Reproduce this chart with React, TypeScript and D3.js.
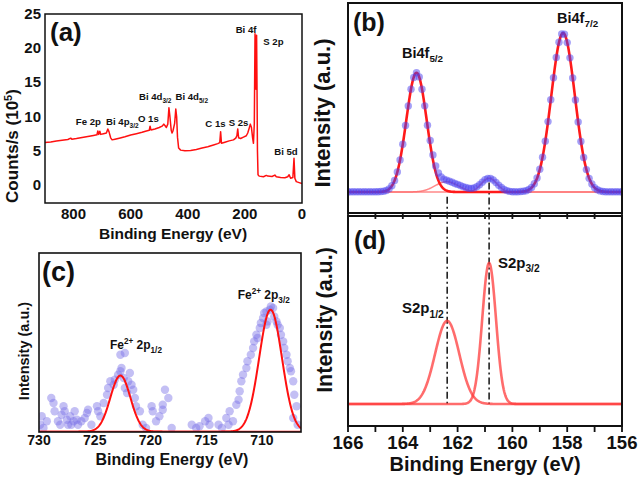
import React from 'react';
import * as d3 from 'd3';

const FONT = '"Liberation Sans", Arial, Helvetica, sans-serif';

// ---------- (a) survey spectrum ----------
const surveyEnergy = [900,880,860,840,820,810,806,790,770,750,730,718,715,712,708,705,695,685,680,676,670,665,655,640,620,600,580,560,545,535,532,529,515,500,490,484,480,475,470,466,463,458,455,452,446,442,439,436,432,425,410,390,370,350,330,310,295,288,285,282,270,255,240,232,228,225,222,215,205,195,190,185,181,177,173,170,167,164.5,162.5,161,159,157.5,156,154,150,135,125,120,105,95,90,75,60,50,45,40,32,28,25,20,10,0];
const surveyCounts = [6.2,6.3,6.45,6.55,6.65,6.85,6.7,6.8,6.95,7.1,7.25,7.35,7.9,7.4,7.85,7.4,7.5,7.6,8.2,7.8,6.9,6.6,6.7,6.85,7.05,7.3,7.5,7.7,7.9,8.0,8.6,8.05,8.2,8.4,8.6,8.9,8.7,8.4,8.9,11.3,10.2,8.0,7.6,7.9,9.0,11.1,10.0,7.0,5.4,5.1,5.0,5.05,5.2,5.4,5.6,5.85,6.05,6.2,7.8,6.1,6.25,6.45,6.6,6.85,7.2,8.2,6.9,6.8,7.0,7.2,7.6,8.3,8.9,8.4,6.9,6.1,9.0,22.1,16,14,21.9,14,5,1.5,1.3,1.2,1.4,1.3,1.25,1.45,1.2,1.1,1.05,1.2,1.5,1.0,1.1,3.9,1.0,0.5,0.35,0.2];
const surveyXTicks = [800, 600, 400, 200, 0];
const surveyYTicks = [0, 5, 10, 15, 20, 25];
const surveyLabelMain = ['Fe 2p', 'Bi 4p', 'O 1s', 'Bi 4d', 'Bi 4d', 'C 1s', 'S 2s', 'Bi 4f', 'S 2p', 'Bi 5d'];
const surveyLabelSub = ['', '3/2', '', '3/2', '5/2', '', '', '', '', ''];
const surveyLabelE = [748, 629, 538, 514, 386, 303, 222, 196, 100, 56];
const surveyLabelV = [8.8, 8.8, 9.2, 12.4, 12.4, 8.5, 8.6, 22.2, 20.5, 4.4];

// ---------- (b) Bi 4f high-resolution ----------
const bEnergy = [166.0,165.9,165.8,165.7,165.6,165.5,165.4,165.3,165.2,165.1,165.0,164.9,164.8,164.7,164.6,164.5,164.4,164.3,164.2,164.1,164.0,163.9,163.8,163.7,163.6,163.5,163.4,163.3,163.2,163.1,163.0,162.9,162.8,162.7,162.6,162.5,162.4,162.3,162.2,162.1,162.0,161.9,161.8,161.7,161.6,161.5,161.4,161.3,161.2,161.1,161.0,160.9,160.8,160.7,160.6,160.5,160.4,160.3,160.2,160.1,160.0,159.9,159.8,159.7,159.6,159.5,159.4,159.3,159.2,159.1,159.0,158.9,158.8,158.7,158.6,158.5,158.4,158.3,158.2,158.1,158.0,157.9,157.8,157.7,157.6,157.5,157.4,157.3,157.2,157.1,157.0,156.9,156.8,156.7,156.6,156.5,156.4,156.3,156.2,156.1,156.0];
const bIntensity = [0.2,0.1,0.2,0.1,0.2,0.1,0.2,0.1,0.2,0.1,0.2,0.2,0.3,0.5,1.0,2.0,4.0,7.3,12.6,20.2,30.0,41.9,54.1,64.7,72.0,75.0,72.4,64.6,54.2,42.0,32.4,23.3,16.4,12.0,9.4,8.0,7.4,6.8,6.1,5.4,4.8,4.1,3.4,2.8,2.4,2.3,2.6,3.3,4.6,6.2,7.7,8.6,8.6,7.6,6.0,4.3,2.8,1.6,0.9,0.4,0.2,0.2,0.1,0.3,0.5,0.8,1.6,2.9,5.2,8.8,14.3,21.9,32.0,44.3,58.0,71.9,84.6,94.2,99.4,99.3,94.0,84.4,71.7,57.9,44.1,31.8,21.7,14.1,8.6,5.0,2.7,1.4,0.7,0.3,0.2,0.1,0.2,0.1,0.2,0.1,0.2];
const biFitCenter = [163.5, 158.15];
const biFitHeight = [75, 100];
const biFitSigma = [0.37, 0.43];
const bSCompCenter = [162.4, 160.85];
const bSCompHeight = [6.5, 8.7];
const bSCompSigma = [0.42, 0.28];

// ---------- (d) S 2p ----------
const sFitCenter = [162.38, 160.85];
const sFitHeight = [58.9, 100];
const sFitSigma = [0.44, 0.25];
const bdXTicks = [166, 165, 164, 163, 162, 161, 160, 159, 158, 157, 156];
const bdXLabels = [166, 164, 162, 160, 158, 156];
const dashLineEnergy = [162.38, 160.85];
const dashLineStartB = [-3, 6];

// ---------- (c) Fe 2p ----------
const cEnergy = [729.76,729.9,729.6,729.3,728.9,728.7,728.6,728.3,728.1,727.97,727.8,727.7,727.5,727.4,727.2,727.1,726.9,726.8,726.6,726.5,726.2,725.9,725.7,725.6,725.3,724.8,724.7,724.5,724.2,723.9,723.8,723.6,723.3,723.2,722.9,722.7,722.6,722.4,722.3,722.1,722.0,721.85,721.7,722.7,722.3,721.55,721.4,721.3,720.95,720.7,720.4,719.9,719.8,719.5,719.2,718.9,718.7,718.4,718.9,718.1,716.3,715.9,715.6,715.1,714.8,714.7,713.9,713.6,713.2,713.0,712.9,712.6,712.3,712.1,712.0,711.85,711.7,711.4,711.3,711.0,710.8,710.7,710.5,710.4,710.2,710.1,709.9,709.8,709.6,709.6,709.5,709.3,709.2,709.0,708.9,708.7,708.6,708.4,708.3,708.1,708.0,707.8,707.7,707.5,707.4,707.2,707.1,706.9,707.2,706.8];
const cIntensity = [12.6,5.7,3.0,8.5,27.6,23.5,16.7,8.5,5.7,13.9,20.8,16.7,9.8,5.7,12.6,5.7,8.5,16.7,9.8,5.7,8.5,11.2,15.3,18.0,5.7,20.8,16.7,12.6,23.5,30.3,35.8,41.3,38.5,42.6,46.7,49.5,52.2,44.0,35.8,31.7,41.3,48.1,38.5,63.1,64.5,34.4,27.6,20.8,16.7,5.7,3.0,20.8,16.7,8.5,12.6,22.1,34.4,27.6,18.0,3.0,5.7,3.0,4.4,8.5,11.2,5.7,5.7,3.0,11.2,5.7,16.7,8.5,22.1,26.2,33.1,41.3,46.7,52.2,57.7,63.1,68.6,74.0,79.5,76.8,85.0,89.1,93.2,97.3,98.6,87.7,90.4,100.0,102.7,101.4,94.5,90.4,87.7,85.0,79.5,74.0,68.6,63.1,57.7,52.2,49.5,41.3,30.3,20.8,11.2,5.7];
const feFitCenter = [722.7, 709.23];
const feFitHeight = [46, 100];
const feFitSigma = [0.9, 1.02];
const cXTicks = [730, 725, 720, 715, 710];

// ---------- helpers ----------
type Seg = { t: string; s?: 'sub' | 'sup' };

function Rich({ x, y, segs, size, anchor = 'start' }: { x: number; y: number; segs: Seg[]; size: number; anchor?: string }) {
  let off = 0;
  return (
    <text x={x} y={y} fontFamily={FONT} fontWeight="bold" fontSize={size} textAnchor={anchor} fill="#111">
      {segs.map((sg, i) => {
        const target = sg.s === 'sub' ? size * 0.3 : sg.s === 'sup' ? -size * 0.4 : 0;
        const dy = target - off;
        off = target;
        return (
          <tspan key={i} dy={dy} fontSize={sg.s ? size * 0.68 : size}>{sg.t}</tspan>
        );
      })}
    </text>
  );
}

function gaussPath(
  x: d3.ScaleLinear<number, number>,
  y: d3.ScaleLinear<number, number>,
  centers: number[], heights: number[], sigmas: number[],
  idx: number[], lo: number, hi: number
) {
  const xs = d3.range(lo, hi, (hi - lo) / 600).concat([hi]);
  const pts: [number, number][] = xs.map((e) => {
    let v = 0;
    idx.forEach((k) => {
      const d = e - centers[k];
      v += heights[k] * Math.exp(-(d * d) / (2 * sigmas[k] * sigmas[k]));
    });
    return [x(e), y(v)];
  });
  return d3.line()(pts) || '';
}

export default function App() {
  // panel (a)
  const xA = d3.scaleLinear().domain([900, 0]).range([45, 302]);
  const yA = d3.scaleLinear().domain([-2.63, 25]).range([203, 14]);
  const surveyLine = d3.line<number>()
    .x((_, i) => xA(surveyEnergy[i]))
    .y((d) => yA(d))(surveyCounts) || '';

  // panel (b)/(d)
  const xB = d3.scaleLinear().domain([166, 156]).range([348, 622]);
  const yB = d3.scaleLinear().domain([-13.2, 118.9]).range([213, 3]);
  const yD = d3.scaleLinear().domain([-15.6, 133.3]).range([426, 216]);

  // panel (c)
  const xC = d3.scaleLinear().domain([730, 706.5]).range([39, 301]);
  const yC = d3.scaleLinear().domain([-0.3, 146.5]).range([432, 253]);

  const bold = { fontFamily: FONT, fontWeight: 'bold' as const, fill: '#111' };

  return (
    <svg width={642} height={477} style={{ position: 'absolute', left: 0, top: 0, background: '#fff' }}>
      <defs>
        <clipPath id="clipA"><rect x={45} y={14} width={257} height={189} /></clipPath>
        <clipPath id="clipB"><rect x={348} y={3} width={274} height={210} /></clipPath>
        <clipPath id="clipD"><rect x={348} y={216} width={274} height={210} /></clipPath>
        <clipPath id="clipC"><rect x={39} y={253} width={262} height={179} /></clipPath>
      </defs>
      <rect x={0} y={0} width={642} height={477} fill="#fff" />

      {/* ================= (a) ================= */}
      <g clipPath="url(#clipA)">
        <path d={surveyLine} fill="none" stroke="#ff1010" strokeWidth={1.5} strokeLinejoin="round" />
      </g>
      <rect x={45} y={14} width={257} height={189} fill="none" stroke="#111" strokeWidth={1.5} />
      {surveyXTicks.map((t) => (
        <text key={t} x={xA(t)} y={219} textAnchor="middle" fontSize={15} {...bold}>{t}</text>
      ))}
      {surveyYTicks.map((t) => (
        <text key={t} x={41} y={yA(t) + 5} textAnchor="end" fontSize={15} {...bold}>{t}</text>
      ))}
      <text transform="translate(18,146) rotate(-90)" textAnchor="middle" fontSize={17} {...bold}>
        Counts/s (10<tspan dy={-6} fontSize={11}>5</tspan><tspan dy={6}>)</tspan>
      </text>
      <text x={173} y={239} textAnchor="middle" fontSize={15.5} {...bold}>Binding Energy (eV)</text>
      <text x={50} y={41} fontSize={26} {...bold}>(a)</text>
      {surveyLabelMain.map((m, i) => (
        <Rich key={i} x={xA(surveyLabelE[i])} y={yA(surveyLabelV[i])} size={9.6} anchor="middle"
          segs={surveyLabelSub[i] ? [{ t: m }, { t: surveyLabelSub[i], s: 'sub' }] : [{ t: m }]} />
      ))}

      {/* ================= dash-dot guide lines ================= */}
      {dashLineEnergy.map((e, i) => (
        <line key={i} x1={xB(e)} x2={xB(e)} y1={yB(dashLineStartB[i])} y2={yD(0)}
          stroke="#222" strokeWidth={1.6} strokeDasharray="7,3,2,3" />
      ))}

      {/* ================= (b) ================= */}
      <g clipPath="url(#clipB)">
        <path d={gaussPath(xB, yB, bSCompCenter, bSCompHeight, bSCompSigma, [0], 166, 156)} fill="none" stroke="#ff6a6a" strokeWidth={1.5} opacity={0.8} />
        <path d={gaussPath(xB, yB, bSCompCenter, bSCompHeight, bSCompSigma, [1], 166, 156)} fill="none" stroke="#ff6a6a" strokeWidth={1.5} opacity={0.8} />
        <path d={gaussPath(xB, yB, biFitCenter, biFitHeight, biFitSigma, [0, 1], 166, 156)} fill="none" stroke="#ff1a1a" strokeWidth={2.6} />
        {bEnergy.map((e, i) => (
          <circle key={i} cx={xB(e)} cy={yB(bIntensity[i])} r={3.7} fill="#4a3ff0" fillOpacity={0.5} />
        ))}
      </g>
      <rect x={348} y={3} width={274} height={210} fill="none" stroke="#111" strokeWidth={2} />
      {bdXTicks.map((t) => (
        <line key={t} x1={xB(t)} x2={xB(t)} y1={213} y2={219} stroke="#111" strokeWidth={1.8} />
      ))}
      <text transform="translate(330,113) rotate(-90)" textAnchor="middle" fontSize={22} {...bold}>Intensity (a.u.)</text>
      <text x={353} y={31} fontSize={25} {...bold}>(b)</text>
      <Rich x={xB(164.03)} y={yB(84.3)} size={14.5} segs={[{ t: 'Bi4f' }, { t: '5/2', s: 'sub' }]} />
      <Rich x={xB(158.37)} y={yB(106.3)} size={14.5} segs={[{ t: 'Bi4f' }, { t: '7/2', s: 'sub' }]} />

      {/* ================= (d) ================= */}
      <g clipPath="url(#clipD)">
        <path d={gaussPath(xB, yD, sFitCenter, sFitHeight, sFitSigma, [0], 166, 156)} fill="none" stroke="#ff3b3b" strokeWidth={2.6} opacity={0.75} />
        <path d={gaussPath(xB, yD, sFitCenter, sFitHeight, sFitSigma, [1], 166, 156)} fill="none" stroke="#ff3b3b" strokeWidth={2.6} opacity={0.75} />
      </g>
      <rect x={348} y={216} width={274} height={210} fill="none" stroke="#111" strokeWidth={2} />
      {bdXTicks.map((t) => (
        <line key={t} x1={xB(t)} x2={xB(t)} y1={426} y2={432} stroke="#111" strokeWidth={1.8} />
      ))}
      {bdXLabels.map((t) => (
        <text key={t} x={xB(t)} y={449} textAnchor="middle" fontSize={18.5} {...bold}>{t}</text>
      ))}
      <text x={485} y={471} textAnchor="middle" fontSize={20} {...bold}>Binding Energy (eV)</text>
      <text transform="translate(332,320) rotate(-90)" textAnchor="middle" fontSize={21.5} {...bold}>Intensity (a.u.)</text>
      <text x={354} y={249} fontSize={25} {...bold}>(d)</text>
      <Rich x={xB(160.53)} y={yD(96.5)} size={15} segs={[{ t: 'S2p' }, { t: '3/2', s: 'sub' }]} />
      <Rich x={xB(164.03)} y={yD(64.5)} size={15} segs={[{ t: 'S2p' }, { t: '1/2', s: 'sub' }]} />

      {/* ================= (c) ================= */}
      <g clipPath="url(#clipC)">
        {cEnergy.map((e, i) => (
          <circle key={i} cx={xC(e)} cy={yC(cIntensity[i])} r={4.2} fill="#7a70e6" fillOpacity={0.45} />
        ))}
        <path d={gaussPath(xC, yC, feFitCenter, feFitHeight, feFitSigma, [0], 730, 706.5)} fill="none" stroke="#ff1010" strokeWidth={2} />
        <path d={gaussPath(xC, yC, feFitCenter, feFitHeight, feFitSigma, [1], 730, 706.5)} fill="none" stroke="#ff1010" strokeWidth={2} />
      </g>
      <rect x={39} y={253} width={262} height={179} fill="none" stroke="#111" strokeWidth={1.6} />
      {cXTicks.map((t) => (
        <text key={t} x={xC(t)} y={445} textAnchor="middle" fontSize={14} {...bold}>{t}</text>
      ))}
      <text x={172} y={465} textAnchor="middle" fontSize={16} {...bold}>Binding Energy (eV)</text>
      <text transform="translate(29,351) rotate(-90)" textAnchor="middle" fontSize={14.5} {...bold}>Intensity (a.u.)</text>
      <text x={42} y={281} fontSize={27} {...bold}>(c)</text>
      <Rich x={xC(723.64)} y={yC(67.6)} size={12}
        segs={[{ t: 'Fe' }, { t: '2+', s: 'sup' }, { t: ' 2p' }, { t: '1/2', s: 'sub' }]} />
      <Rich x={xC(712.18)} y={yC(108.6)} size={12}
        segs={[{ t: 'Fe' }, { t: '2+', s: 'sup' }, { t: ' 2p' }, { t: '3/2', s: 'sub' }]} />
    </svg>
  );
}
